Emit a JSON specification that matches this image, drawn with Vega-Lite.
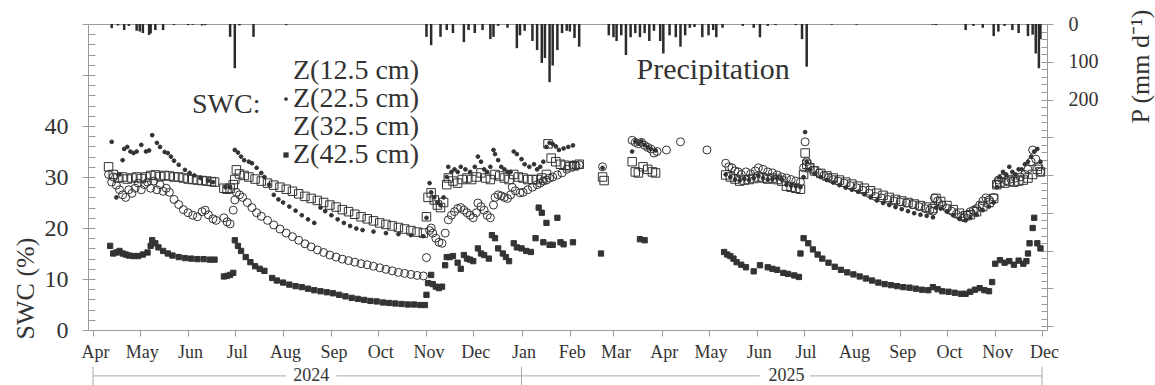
{
"$schema": "https://vega.github.io/schema/vega-lite/v6.json",
"width": 959, "height": 306,
"autosize": {"type": "none"},
"padding": {"left": 88, "top": 24, "right": 108, "bottom": 55},
"background": "white",
"config": {
 "font": "Liberation Serif",
 "view": {"stroke": "#9a9a9a"},
 "axis": {"grid": false, "domainColor": "#9a9a9a", "tickColor": "#9a9a9a", "labelColor": "#333", "titleColor": "#333", "labelFont": "Liberation Serif", "titleFont": "Liberation Serif", "titleFontWeight": "normal"},
 "legend": {"labelFont": "Liberation Serif", "titleFont": "Liberation Serif", "labelColor": "#333", "titleColor": "#333", "orient": "none", "legendX": 104, "legendY": 33, "titleOrient": "left", "titleFontSize": 28, "titleFontWeight": "normal", "titlePadding": 11, "titleAnchor": "middle", "titleBaseline": "alphabetic", "labelFontSize": 28, "rowPadding": 0, "labelOffset": -7, "padding": 0, "symbolStrokeColor": "#333", "symbolStrokeWidth": 1}
},
"datasets": {
"p": [
{"d":"2024-04-13","p":11},{"d":"2024-04-17","p":4},{"d":"2024-04-21","p":16},{"d":"2024-04-24","p":5},{"d":"2024-04-29","p":18},{"d":"2024-05-01","p":20},{"d":"2024-05-03","p":24},{"d":"2024-05-07","p":29},{"d":"2024-05-08","p":25},{"d":"2024-05-11","p":16},{"d":"2024-05-16","p":16},{"d":"2024-05-23","p":3},{"d":"2024-06-01","p":3},{"d":"2024-06-04","p":2},{"d":"2024-06-10","p":4},{"d":"2024-06-12","p":3},{"d":"2024-06-28","p":34},{"d":"2024-07-01","p":117},{"d":"2024-07-04","p":4},{"d":"2024-07-13","p":34},{"d":"2024-08-03","p":3},
{"d":"2024-11-01","p":34},{"d":"2024-11-04","p":56},{"d":"2024-11-10","p":34},{"d":"2024-11-14","p":16},{"d":"2024-11-18","p":24},{"d":"2024-11-25","p":48},{"d":"2024-11-28","p":16},{"d":"2024-12-02","p":24},{"d":"2024-12-07","p":16},{"d":"2024-12-12","p":40},{"d":"2024-12-14","p":34},{"d":"2024-12-17","p":5},{"d":"2024-12-23","p":10},{"d":"2024-12-29","p":64},{"d":"2024-12-31","p":30},
{"d":"2025-01-03","p":18},{"d":"2025-01-08","p":45},{"d":"2025-01-11","p":69},{"d":"2025-01-14","p":103},{"d":"2025-01-16","p":90},{"d":"2025-01-19","p":154},{"d":"2025-01-21","p":110},{"d":"2025-01-24","p":69},{"d":"2025-01-27","p":24},{"d":"2025-01-30","p":18},{"d":"2025-02-01","p":20},{"d":"2025-02-04","p":37},{"d":"2025-02-07","p":60},{"d":"2025-02-26","p":30},{"d":"2025-03-01","p":35},{"d":"2025-03-03","p":45},{"d":"2025-03-06","p":30},{"d":"2025-03-09","p":82},{"d":"2025-03-12","p":35},{"d":"2025-03-15","p":24},{"d":"2025-03-18","p":35},{"d":"2025-03-21","p":24},{"d":"2025-03-24","p":45},{"d":"2025-03-27","p":18},{"d":"2025-03-31","p":45},{"d":"2025-04-02","p":78},{"d":"2025-04-06","p":30},{"d":"2025-04-10","p":35},{"d":"2025-04-13","p":60},{"d":"2025-04-16","p":30},{"d":"2025-04-19","p":10},{"d":"2025-04-22","p":8},{"d":"2025-04-27","p":35},{"d":"2025-05-01","p":30},{"d":"2025-05-04","p":16},{"d":"2025-05-06","p":35},{"d":"2025-05-10","p":10},{"d":"2025-05-23","p":5},{"d":"2025-05-30","p":10},{"d":"2025-06-03","p":35},{"d":"2025-06-08","p":5},{"d":"2025-06-13","p":3},{"d":"2025-06-26","p":3},{"d":"2025-06-30","p":40},{"d":"2025-07-03","p":113},{"d":"2025-07-19","p":2},{"d":"2025-08-04","p":2},{"d":"2025-09-22","p":2},{"d":"2025-09-24","p":3},{"d":"2025-10-13","p":16},{"d":"2025-10-18","p":5},{"d":"2025-10-24","p":10},{"d":"2025-10-31","p":32},{"d":"2025-11-03","p":20},{"d":"2025-11-07","p":5},{"d":"2025-11-12","p":16},{"d":"2025-11-16","p":24},{"d":"2025-11-22","p":32},{"d":"2025-11-25","p":28},{"d":"2025-11-27","p":78},{"d":"2025-11-29","p":117},{"d":"2025-11-30","p":40}
],
"swc": [
{"d":"2024-04-11","s":"12.5","v":30.5},{"d":"2024-04-13","s":"12.5","v":29},{"d":"2024-04-14","s":"12.5","v":30},{"d":"2024-04-16","s":"12.5","v":28.4},{"d":"2024-04-18","s":"12.5","v":27.5},{"d":"2024-04-20","s":"12.5","v":26.5},{"d":"2024-04-22","s":"12.5","v":26},{"d":"2024-04-24","s":"12.5","v":27.5},{"d":"2024-04-26","s":"12.5","v":26.8},{"d":"2024-04-28","s":"12.5","v":27.8},{"d":"2024-04-30","s":"12.5","v":28.8},{"d":"2024-05-02","s":"12.5","v":27.5},{"d":"2024-05-04","s":"12.5","v":28.5},{"d":"2024-05-06","s":"12.5","v":29},{"d":"2024-05-08","s":"12.5","v":27.8},{"d":"2024-05-10","s":"12.5","v":29.2},{"d":"2024-05-12","s":"12.5","v":27.5},{"d":"2024-05-14","s":"12.5","v":28.5},{"d":"2024-05-16","s":"12.5","v":27.2},{"d":"2024-05-18","s":"12.5","v":27.8},{"d":"2024-05-20","s":"12.5","v":27},{"d":"2024-05-23","s":"12.5","v":25.6},{"d":"2024-05-26","s":"12.5","v":24.6},{"d":"2024-05-29","s":"12.5","v":23.6},{"d":"2024-06-01","s":"12.5","v":23},{"d":"2024-06-04","s":"12.5","v":22.5},{"d":"2024-06-07","s":"12.5","v":22.2},{"d":"2024-06-10","s":"12.5","v":23.2},{"d":"2024-06-12","s":"12.5","v":23.5},{"d":"2024-06-14","s":"12.5","v":22.6},{"d":"2024-06-17","s":"12.5","v":21.8},{"d":"2024-06-19","s":"12.5","v":21.5},{"d":"2024-06-24","s":"12.5","v":22},{"d":"2024-06-26","s":"12.5","v":21.2},{"d":"2024-06-28","s":"12.5","v":20.8},{"d":"2024-06-30","s":"12.5","v":23.5},{"d":"2024-07-01","s":"12.5","v":25.5},{"d":"2024-07-02","s":"12.5","v":27},{"d":"2024-07-04","s":"12.5","v":26.5},{"d":"2024-07-06","s":"12.5","v":26},{"d":"2024-07-09","s":"12.5","v":25},{"d":"2024-07-12","s":"12.5","v":24},{"d":"2024-07-15","s":"12.5","v":23},{"d":"2024-07-18","s":"12.5","v":22.3},{"d":"2024-07-22","s":"12.5","v":21.5},{"d":"2024-07-26","s":"12.5","v":20.6},{"d":"2024-07-30","s":"12.5","v":19.8},{"d":"2024-08-03","s":"12.5","v":19},{"d":"2024-08-07","s":"12.5","v":18.3},{"d":"2024-08-11","s":"12.5","v":17.6},{"d":"2024-08-15","s":"12.5","v":16.9},{"d":"2024-08-19","s":"12.5","v":16.3},{"d":"2024-08-23","s":"12.5","v":15.7},{"d":"2024-08-27","s":"12.5","v":15.2},{"d":"2024-08-31","s":"12.5","v":14.7},{"d":"2024-09-04","s":"12.5","v":14.3},{"d":"2024-09-08","s":"12.5","v":13.9},{"d":"2024-09-12","s":"12.5","v":13.6},{"d":"2024-09-16","s":"12.5","v":13.3},{"d":"2024-09-20","s":"12.5","v":13},{"d":"2024-09-24","s":"12.5","v":12.8},{"d":"2024-09-28","s":"12.5","v":12.5},{"d":"2024-10-02","s":"12.5","v":12.2},{"d":"2024-10-06","s":"12.5","v":11.9},{"d":"2024-10-10","s":"12.5","v":11.6},{"d":"2024-10-14","s":"12.5","v":11.3},{"d":"2024-10-18","s":"12.5","v":11.1},{"d":"2024-10-22","s":"12.5","v":10.9},{"d":"2024-10-26","s":"12.5","v":10.7},{"d":"2024-10-30","s":"12.5","v":10.6},{"d":"2024-11-01","s":"12.5","v":14.2},{"d":"2024-11-03","s":"12.5","v":19.5},{"d":"2024-11-04","s":"12.5","v":20},{"d":"2024-11-05","s":"12.5","v":19},{"d":"2024-11-07","s":"12.5","v":18},{"d":"2024-11-09","s":"12.5","v":17.2},{"d":"2024-11-11","s":"12.5","v":17},{"d":"2024-11-13","s":"12.5","v":19},{"d":"2024-11-15","s":"12.5","v":21.6},{"d":"2024-11-17","s":"12.5","v":22.5},{"d":"2024-11-19","s":"12.5","v":23.2},{"d":"2024-11-21","s":"12.5","v":23.8},{"d":"2024-11-23","s":"12.5","v":24},{"d":"2024-11-25","s":"12.5","v":23.5},{"d":"2024-11-27","s":"12.5","v":23},{"d":"2024-11-29","s":"12.5","v":22.5},{"d":"2024-12-01","s":"12.5","v":22},{"d":"2024-12-03","s":"12.5","v":23},{"d":"2024-12-04","s":"12.5","v":24.9},{"d":"2024-12-06","s":"12.5","v":24.2},{"d":"2024-12-08","s":"12.5","v":23.5},{"d":"2024-12-10","s":"12.5","v":22.5},{"d":"2024-12-12","s":"12.5","v":22},{"d":"2024-12-14","s":"12.5","v":24.5},{"d":"2024-12-15","s":"12.5","v":26},{"d":"2024-12-17","s":"12.5","v":26.5},{"d":"2024-12-19","s":"12.5","v":26.3},{"d":"2024-12-21","s":"12.5","v":26},{"d":"2024-12-23","s":"12.5","v":25.8},{"d":"2024-12-25","s":"12.5","v":26.5},{"d":"2024-12-26","s":"12.5","v":28},{"d":"2024-12-28","s":"12.5","v":27.3},{"d":"2024-12-31","s":"12.5","v":26.9},{"d":"2025-01-02","s":"12.5","v":27},{"d":"2025-01-05","s":"12.5","v":27.5},{"d":"2025-01-08","s":"12.5","v":28},{"d":"2025-01-11","s":"12.5","v":28.5},{"d":"2025-01-13","s":"12.5","v":28.8},{"d":"2025-01-15","s":"12.5","v":29.2},{"d":"2025-01-17","s":"12.5","v":29.4},{"d":"2025-01-19","s":"12.5","v":29.8},{"d":"2025-01-21","s":"12.5","v":30},{"d":"2025-01-24","s":"12.5","v":30.4},{"d":"2025-01-27","s":"12.5","v":30.8},{"d":"2025-01-30","s":"12.5","v":31.5},{"d":"2025-02-03","s":"12.5","v":32.4},{"d":"2025-02-05","s":"12.5","v":32.2},{"d":"2025-02-07","s":"12.5","v":32.4},{"d":"2025-02-22","s":"12.5","v":32},{"d":"2025-03-13","s":"12.5","v":37.2},{"d":"2025-03-15","s":"12.5","v":36.8},{"d":"2025-03-17","s":"12.5","v":36.5},{"d":"2025-03-19","s":"12.5","v":36.8},{"d":"2025-03-21","s":"12.5","v":36.2},{"d":"2025-03-23","s":"12.5","v":35.8},{"d":"2025-03-25","s":"12.5","v":35.5},{"d":"2025-03-27","s":"12.5","v":34.7},{"d":"2025-03-29","s":"12.5","v":35},{"d":"2025-04-04","s":"12.5","v":35.3},{"d":"2025-04-13","s":"12.5","v":36.9},{"d":"2025-04-30","s":"12.5","v":35.3},{"d":"2025-05-12","s":"12.5","v":32.7},{"d":"2025-05-14","s":"12.5","v":32},{"d":"2025-05-16","s":"12.5","v":31.8},{"d":"2025-05-18","s":"12.5","v":31.2},{"d":"2025-05-20","s":"12.5","v":31},{"d":"2025-05-22","s":"12.5","v":30.5},{"d":"2025-05-25","s":"12.5","v":31},{"d":"2025-05-28","s":"12.5","v":30.6},{"d":"2025-05-31","s":"12.5","v":31.2},{"d":"2025-06-02","s":"12.5","v":31.8},{"d":"2025-06-05","s":"12.5","v":31.5},{"d":"2025-06-08","s":"12.5","v":31},{"d":"2025-06-11","s":"12.5","v":30.8},{"d":"2025-06-14","s":"12.5","v":30.4},{"d":"2025-06-17","s":"12.5","v":30},{"d":"2025-06-20","s":"12.5","v":29.8},{"d":"2025-06-23","s":"12.5","v":29.5},{"d":"2025-06-26","s":"12.5","v":29.2},{"d":"2025-06-29","s":"12.5","v":29},{"d":"2025-07-01","s":"12.5","v":31.8},{"d":"2025-07-02","s":"12.5","v":36.9},{"d":"2025-07-03","s":"12.5","v":33},{"d":"2025-07-05","s":"12.5","v":32},{"d":"2025-07-08","s":"12.5","v":31.3},{"d":"2025-07-11","s":"12.5","v":30.8},{"d":"2025-07-14","s":"12.5","v":30.3},{"d":"2025-07-17","s":"12.5","v":29.9},{"d":"2025-07-20","s":"12.5","v":29.5},{"d":"2025-07-23","s":"12.5","v":29.2},{"d":"2025-07-27","s":"12.5","v":28.8},{"d":"2025-07-31","s":"12.5","v":28.3},{"d":"2025-08-04","s":"12.5","v":27.9},{"d":"2025-08-08","s":"12.5","v":27.4},{"d":"2025-08-12","s":"12.5","v":26.8},{"d":"2025-08-16","s":"12.5","v":26.2},{"d":"2025-08-20","s":"12.5","v":25.9},{"d":"2025-08-24","s":"12.5","v":25.6},{"d":"2025-08-28","s":"12.5","v":25.3},{"d":"2025-09-01","s":"12.5","v":25.1},{"d":"2025-09-05","s":"12.5","v":24.9},{"d":"2025-09-09","s":"12.5","v":24.6},{"d":"2025-09-13","s":"12.5","v":24.2},{"d":"2025-09-17","s":"12.5","v":23.8},{"d":"2025-09-20","s":"12.5","v":23.5},{"d":"2025-09-22","s":"12.5","v":23.3},{"d":"2025-09-23","s":"12.5","v":25.9},{"d":"2025-09-25","s":"12.5","v":25.3},{"d":"2025-09-28","s":"12.5","v":24.5},{"d":"2025-10-01","s":"12.5","v":23.9},{"d":"2025-10-04","s":"12.5","v":23.3},{"d":"2025-10-07","s":"12.5","v":22.7},{"d":"2025-10-10","s":"12.5","v":22.2},{"d":"2025-10-12","s":"12.5","v":22},{"d":"2025-10-14","s":"12.5","v":22.6},{"d":"2025-10-16","s":"12.5","v":23.2},{"d":"2025-10-18","s":"12.5","v":23.5},{"d":"2025-10-20","s":"12.5","v":23.8},{"d":"2025-10-22","s":"12.5","v":24.5},{"d":"2025-10-24","s":"12.5","v":25.3},{"d":"2025-10-26","s":"12.5","v":25.9},{"d":"2025-10-28","s":"12.5","v":25.5},{"d":"2025-10-31","s":"12.5","v":26},{"d":"2025-11-02","s":"12.5","v":28.5},{"d":"2025-11-03","s":"12.5","v":29.4},{"d":"2025-11-05","s":"12.5","v":29.8},{"d":"2025-11-08","s":"12.5","v":29.3},{"d":"2025-11-11","s":"12.5","v":29.6},{"d":"2025-11-14","s":"12.5","v":29.8},{"d":"2025-11-17","s":"12.5","v":30},{"d":"2025-11-20","s":"12.5","v":30.5},{"d":"2025-11-22","s":"12.5","v":31.5},{"d":"2025-11-24","s":"12.5","v":33},{"d":"2025-11-25","s":"12.5","v":35.3},{"d":"2025-11-27","s":"12.5","v":33.5},{"d":"2025-11-29","s":"12.5","v":32},{"d":"2025-11-30","s":"12.5","v":31},
{"d":"2024-04-13","s":"22.5","v":36.9},{"d":"2024-04-16","s":"22.5","v":26},{"d":"2024-04-18","s":"22.5","v":30.5},{"d":"2024-04-20","s":"22.5","v":33.3},{"d":"2024-04-21","s":"22.5","v":35.5},{"d":"2024-04-23","s":"22.5","v":35.9},{"d":"2024-04-25","s":"22.5","v":35},{"d":"2024-04-27","s":"22.5","v":34.7},{"d":"2024-04-29","s":"22.5","v":35},{"d":"2024-05-02","s":"22.5","v":36.3},{"d":"2024-05-05","s":"22.5","v":35},{"d":"2024-05-07","s":"22.5","v":35.2},{"d":"2024-05-09","s":"22.5","v":38.2},{"d":"2024-05-12","s":"22.5","v":36.7},{"d":"2024-05-14","s":"22.5","v":35.9},{"d":"2024-05-17","s":"22.5","v":34.9},{"d":"2024-05-19","s":"22.5","v":34.7},{"d":"2024-05-21","s":"22.5","v":34},{"d":"2024-05-23","s":"22.5","v":33.2},{"d":"2024-05-26","s":"22.5","v":32.4},{"d":"2024-05-30","s":"22.5","v":31.4},{"d":"2024-06-02","s":"22.5","v":30.8},{"d":"2024-06-05","s":"22.5","v":30.3},{"d":"2024-06-09","s":"22.5","v":29.8},{"d":"2024-06-14","s":"22.5","v":29.3},{"d":"2024-06-17","s":"22.5","v":29},{"d":"2024-06-25","s":"22.5","v":28},{"d":"2024-06-28","s":"22.5","v":28},{"d":"2024-07-01","s":"22.5","v":35.3},{"d":"2024-07-03","s":"22.5","v":34.8},{"d":"2024-07-05","s":"22.5","v":34},{"d":"2024-07-07","s":"22.5","v":33.3},{"d":"2024-07-10","s":"22.5","v":33},{"d":"2024-07-12","s":"22.5","v":32.7},{"d":"2024-07-15","s":"22.5","v":31.8},{"d":"2024-07-18","s":"22.5","v":30.8},{"d":"2024-07-20","s":"22.5","v":30},{"d":"2024-07-23","s":"22.5","v":28.5},{"d":"2024-07-26","s":"22.5","v":26.5},{"d":"2024-07-29","s":"22.5","v":25.6},{"d":"2024-08-01","s":"22.5","v":25},{"d":"2024-08-05","s":"22.5","v":24.2},{"d":"2024-08-09","s":"22.5","v":23.4},{"d":"2024-08-13","s":"22.5","v":22.5},{"d":"2024-08-17","s":"22.5","v":21.7},{"d":"2024-08-21","s":"22.5","v":21},{"d":"2024-08-25","s":"22.5","v":24},{"d":"2024-08-28","s":"22.5","v":23.3},{"d":"2024-09-01","s":"22.5","v":22.5},{"d":"2024-09-05","s":"22.5","v":21.7},{"d":"2024-09-09","s":"22.5","v":21},{"d":"2024-09-13","s":"22.5","v":20.4},{"d":"2024-09-17","s":"22.5","v":19.9},{"d":"2024-09-21","s":"22.5","v":19.6},{"d":"2024-09-28","s":"22.5","v":19.3},{"d":"2024-10-06","s":"22.5","v":19},{"d":"2024-10-14","s":"22.5","v":18.8},{"d":"2024-10-22","s":"22.5","v":18.6},{"d":"2024-10-30","s":"22.5","v":18.4},{"d":"2024-11-01","s":"22.5","v":22},{"d":"2024-11-03","s":"22.5","v":28.8},{"d":"2024-11-04","s":"22.5","v":27},{"d":"2024-11-06","s":"22.5","v":26},{"d":"2024-11-08","s":"22.5","v":25},{"d":"2024-11-10","s":"22.5","v":24.5},{"d":"2024-11-12","s":"22.5","v":26},{"d":"2024-11-14","s":"22.5","v":30},{"d":"2024-11-15","s":"22.5","v":32},{"d":"2024-11-17","s":"22.5","v":31},{"d":"2024-11-19","s":"22.5","v":31.5},{"d":"2024-11-21","s":"22.5","v":31},{"d":"2024-11-23","s":"22.5","v":32},{"d":"2024-11-26","s":"22.5","v":31.5},{"d":"2024-11-29","s":"22.5","v":31},{"d":"2024-12-02","s":"22.5","v":32},{"d":"2024-12-04","s":"22.5","v":34},{"d":"2024-12-06","s":"22.5","v":33},{"d":"2024-12-08","s":"22.5","v":31.5},{"d":"2024-12-10","s":"22.5","v":31},{"d":"2024-12-12","s":"22.5","v":32},{"d":"2024-12-14","s":"22.5","v":35.3},{"d":"2024-12-15","s":"22.5","v":34.5},{"d":"2024-12-17","s":"22.5","v":33.3},{"d":"2024-12-19","s":"22.5","v":32},{"d":"2024-12-21","s":"22.5","v":31.5},{"d":"2024-12-23","s":"22.5","v":31},{"d":"2024-12-25","s":"22.5","v":31},{"d":"2024-12-27","s":"22.5","v":35},{"d":"2024-12-29","s":"22.5","v":34.5},{"d":"2025-01-01","s":"22.5","v":33.5},{"d":"2025-01-03","s":"22.5","v":32.5},{"d":"2025-01-06","s":"22.5","v":32},{"d":"2025-01-09","s":"22.5","v":32.5},{"d":"2025-01-11","s":"22.5","v":31.5},{"d":"2025-01-13","s":"22.5","v":32},{"d":"2025-01-15","s":"22.5","v":33},{"d":"2025-01-17","s":"22.5","v":35.9},{"d":"2025-01-19","s":"22.5","v":36.7},{"d":"2025-01-21","s":"22.5","v":36.5},{"d":"2025-01-23","s":"22.5","v":36},{"d":"2025-01-25","s":"22.5","v":35.3},{"d":"2025-01-28","s":"22.5","v":35.6},{"d":"2025-01-31","s":"22.5","v":35.9},{"d":"2025-02-03","s":"22.5","v":36.2},{"d":"2025-02-22","s":"22.5","v":31.8},{"d":"2025-03-13","s":"22.5","v":35},{"d":"2025-03-15","s":"22.5","v":37},{"d":"2025-03-17","s":"22.5","v":36.5},{"d":"2025-03-19","s":"22.5","v":37},{"d":"2025-03-21","s":"22.5","v":36.3},{"d":"2025-03-23","s":"22.5","v":35.8},{"d":"2025-03-25","s":"22.5","v":35.5},{"d":"2025-03-28","s":"22.5","v":35.2},{"d":"2025-05-12","s":"22.5","v":30.5},{"d":"2025-05-15","s":"22.5","v":30},{"d":"2025-05-18","s":"22.5","v":29.5},{"d":"2025-05-21","s":"22.5","v":29.3},{"d":"2025-05-24","s":"22.5","v":29.6},{"d":"2025-05-27","s":"22.5","v":29.4},{"d":"2025-05-30","s":"22.5","v":29.8},{"d":"2025-06-02","s":"22.5","v":30.2},{"d":"2025-06-05","s":"22.5","v":29.8},{"d":"2025-06-08","s":"22.5","v":29.5},{"d":"2025-06-11","s":"22.5","v":29.6},{"d":"2025-06-14","s":"22.5","v":29.8},{"d":"2025-06-17","s":"22.5","v":29.5},{"d":"2025-06-20","s":"22.5","v":28.5},{"d":"2025-06-23","s":"22.5","v":28.3},{"d":"2025-06-26","s":"22.5","v":28.2},{"d":"2025-06-29","s":"22.5","v":28},{"d":"2025-07-01","s":"22.5","v":30},{"d":"2025-07-02","s":"22.5","v":38.8},{"d":"2025-07-03","s":"22.5","v":33},{"d":"2025-07-05","s":"22.5","v":31.5},{"d":"2025-07-08","s":"22.5","v":30.6},{"d":"2025-07-12","s":"22.5","v":30},{"d":"2025-07-16","s":"22.5","v":29.4},{"d":"2025-07-20","s":"22.5","v":28.9},{"d":"2025-07-24","s":"22.5","v":28.4},{"d":"2025-07-28","s":"22.5","v":27.9},{"d":"2025-08-01","s":"22.5","v":27.5},{"d":"2025-08-05","s":"22.5","v":27.1},{"d":"2025-08-09","s":"22.5","v":26.6},{"d":"2025-08-13","s":"22.5","v":26},{"d":"2025-08-17","s":"22.5","v":25.4},{"d":"2025-08-21","s":"22.5","v":24.9},{"d":"2025-08-25","s":"22.5","v":24.5},{"d":"2025-08-29","s":"22.5","v":24.1},{"d":"2025-09-02","s":"22.5","v":23.7},{"d":"2025-09-06","s":"22.5","v":23.3},{"d":"2025-09-10","s":"22.5","v":22.9},{"d":"2025-09-14","s":"22.5","v":22.6},{"d":"2025-09-18","s":"22.5","v":22.4},{"d":"2025-09-22","s":"22.5","v":22.1},{"d":"2025-09-24","s":"22.5","v":24},{"d":"2025-09-27","s":"22.5","v":23.8},{"d":"2025-10-01","s":"22.5","v":23.2},{"d":"2025-10-05","s":"22.5","v":22.5},{"d":"2025-10-09","s":"22.5","v":21.8},{"d":"2025-10-13","s":"22.5","v":21.5},{"d":"2025-10-16","s":"22.5","v":22},{"d":"2025-10-20","s":"22.5","v":22.6},{"d":"2025-10-24","s":"22.5","v":23.5},{"d":"2025-10-28","s":"22.5","v":24.2},{"d":"2025-10-31","s":"22.5","v":25},{"d":"2025-11-02","s":"22.5","v":28},{"d":"2025-11-04","s":"22.5","v":30},{"d":"2025-11-06","s":"22.5","v":31},{"d":"2025-11-08","s":"22.5","v":30.5},{"d":"2025-11-10","s":"22.5","v":32},{"d":"2025-11-12","s":"22.5","v":31},{"d":"2025-11-14","s":"22.5","v":30.5},{"d":"2025-11-16","s":"22.5","v":31.5},{"d":"2025-11-18","s":"22.5","v":31.5},{"d":"2025-11-20","s":"22.5","v":32.5},{"d":"2025-11-22","s":"22.5","v":33},{"d":"2025-11-24","s":"22.5","v":34},{"d":"2025-11-26","s":"22.5","v":35},{"d":"2025-11-28","s":"22.5","v":35.5},{"d":"2025-11-30","s":"22.5","v":33},
{"d":"2024-04-11","s":"32.5","v":32},{"d":"2024-04-14","s":"32.5","v":30.5},{"d":"2024-04-17","s":"32.5","v":29.8},{"d":"2024-04-20","s":"32.5","v":30},{"d":"2024-04-23","s":"32.5","v":29.6},{"d":"2024-04-26","s":"32.5","v":29.8},{"d":"2024-04-29","s":"32.5","v":30},{"d":"2024-05-02","s":"32.5","v":29.7},{"d":"2024-05-05","s":"32.5","v":30},{"d":"2024-05-08","s":"32.5","v":30.3},{"d":"2024-05-11","s":"32.5","v":30.4},{"d":"2024-05-14","s":"32.5","v":30.1},{"d":"2024-05-17","s":"32.5","v":30.3},{"d":"2024-05-20","s":"32.5","v":30.2},{"d":"2024-05-23","s":"32.5","v":30},{"d":"2024-05-26","s":"32.5","v":30},{"d":"2024-05-29","s":"32.5","v":29.8},{"d":"2024-06-01","s":"32.5","v":29.6},{"d":"2024-06-04","s":"32.5","v":29.5},{"d":"2024-06-07","s":"32.5","v":29.4},{"d":"2024-06-10","s":"32.5","v":29.3},{"d":"2024-06-13","s":"32.5","v":29.2},{"d":"2024-06-16","s":"32.5","v":29.1},{"d":"2024-06-18","s":"32.5","v":29},{"d":"2024-06-24","s":"32.5","v":27.8},{"d":"2024-06-26","s":"32.5","v":27.6},{"d":"2024-06-28","s":"32.5","v":27.8},{"d":"2024-06-30","s":"32.5","v":28.5},{"d":"2024-07-01","s":"32.5","v":29.5},{"d":"2024-07-02","s":"32.5","v":31.4},{"d":"2024-07-04","s":"32.5","v":30.6},{"d":"2024-07-07","s":"32.5","v":30.3},{"d":"2024-07-10","s":"32.5","v":30},{"d":"2024-07-14","s":"32.5","v":29.6},{"d":"2024-07-18","s":"32.5","v":29.2},{"d":"2024-07-22","s":"32.5","v":28.8},{"d":"2024-07-26","s":"32.5","v":28.4},{"d":"2024-07-30","s":"32.5","v":28},{"d":"2024-08-03","s":"32.5","v":27.6},{"d":"2024-08-07","s":"32.5","v":27.2},{"d":"2024-08-11","s":"32.5","v":26.7},{"d":"2024-08-15","s":"32.5","v":26.2},{"d":"2024-08-19","s":"32.5","v":25.8},{"d":"2024-08-23","s":"32.5","v":25.4},{"d":"2024-08-27","s":"32.5","v":25},{"d":"2024-08-31","s":"32.5","v":24.5},{"d":"2024-09-04","s":"32.5","v":24.1},{"d":"2024-09-08","s":"32.5","v":23.6},{"d":"2024-09-12","s":"32.5","v":23.2},{"d":"2024-09-16","s":"32.5","v":22.7},{"d":"2024-09-20","s":"32.5","v":22.2},{"d":"2024-09-24","s":"32.5","v":21.8},{"d":"2024-09-28","s":"32.5","v":21.4},{"d":"2024-10-02","s":"32.5","v":21},{"d":"2024-10-06","s":"32.5","v":20.7},{"d":"2024-10-10","s":"32.5","v":20.4},{"d":"2024-10-14","s":"32.5","v":20.1},{"d":"2024-10-18","s":"32.5","v":19.8},{"d":"2024-10-22","s":"32.5","v":19.5},{"d":"2024-10-26","s":"32.5","v":19.2},{"d":"2024-10-30","s":"32.5","v":19},{"d":"2024-11-01","s":"32.5","v":22.2},{"d":"2024-11-02","s":"32.5","v":26},{"d":"2024-11-04","s":"32.5","v":26.9},{"d":"2024-11-06","s":"32.5","v":25.5},{"d":"2024-11-08","s":"32.5","v":24.5},{"d":"2024-11-10","s":"32.5","v":24},{"d":"2024-11-12","s":"32.5","v":25},{"d":"2024-11-14","s":"32.5","v":28.5},{"d":"2024-11-15","s":"32.5","v":29.8},{"d":"2024-11-18","s":"32.5","v":29.2},{"d":"2024-11-21","s":"32.5","v":28.8},{"d":"2024-11-24","s":"32.5","v":29.5},{"d":"2024-11-27","s":"32.5","v":29.8},{"d":"2024-11-30","s":"32.5","v":29.5},{"d":"2024-12-03","s":"32.5","v":30},{"d":"2024-12-06","s":"32.5","v":30.8},{"d":"2024-12-09","s":"32.5","v":29.8},{"d":"2024-12-12","s":"32.5","v":29.5},{"d":"2024-12-15","s":"32.5","v":30.5},{"d":"2024-12-18","s":"32.5","v":30.2},{"d":"2024-12-21","s":"32.5","v":29.8},{"d":"2024-12-24","s":"32.5","v":29.5},{"d":"2024-12-27","s":"32.5","v":30.5},{"d":"2024-12-30","s":"32.5","v":30},{"d":"2025-01-02","s":"32.5","v":29.8},{"d":"2025-01-05","s":"32.5","v":29.5},{"d":"2025-01-08","s":"32.5","v":29.5},{"d":"2025-01-11","s":"32.5","v":29.5},{"d":"2025-01-14","s":"32.5","v":29.8},{"d":"2025-01-17","s":"32.5","v":30.5},{"d":"2025-01-18","s":"32.5","v":36.5},{"d":"2025-01-20","s":"32.5","v":33.7},{"d":"2025-01-23","s":"32.5","v":33},{"d":"2025-01-26","s":"32.5","v":32.5},{"d":"2025-01-29","s":"32.5","v":32.3},{"d":"2025-02-01","s":"32.5","v":32},{"d":"2025-02-04","s":"32.5","v":32.2},{"d":"2025-02-07","s":"32.5","v":32.5},{"d":"2025-02-22","s":"32.5","v":30},{"d":"2025-02-23","s":"32.5","v":29.3},{"d":"2025-03-13","s":"32.5","v":33},{"d":"2025-03-15","s":"32.5","v":31},{"d":"2025-03-17","s":"32.5","v":30.8},{"d":"2025-03-20","s":"32.5","v":32},{"d":"2025-03-23","s":"32.5","v":31.5},{"d":"2025-03-26","s":"32.5","v":31},{"d":"2025-03-28","s":"32.5","v":30.8},{"d":"2025-05-12","s":"32.5","v":30.4},{"d":"2025-05-15","s":"32.5","v":30},{"d":"2025-05-18","s":"32.5","v":29.6},{"d":"2025-05-21","s":"32.5","v":29.2},{"d":"2025-05-24","s":"32.5","v":29.4},{"d":"2025-05-27","s":"32.5","v":29.5},{"d":"2025-05-30","s":"32.5","v":29.7},{"d":"2025-06-02","s":"32.5","v":30},{"d":"2025-06-05","s":"32.5","v":29.8},{"d":"2025-06-08","s":"32.5","v":29.6},{"d":"2025-06-11","s":"32.5","v":29.8},{"d":"2025-06-14","s":"32.5","v":29.5},{"d":"2025-06-17","s":"32.5","v":29.2},{"d":"2025-06-20","s":"32.5","v":28.2},{"d":"2025-06-23","s":"32.5","v":28},{"d":"2025-06-26","s":"32.5","v":27.8},{"d":"2025-06-29","s":"32.5","v":27.6},{"d":"2025-07-01","s":"32.5","v":30.5},{"d":"2025-07-02","s":"32.5","v":34.7},{"d":"2025-07-03","s":"32.5","v":32.5},{"d":"2025-07-05","s":"32.5","v":31.8},{"d":"2025-07-08","s":"32.5","v":31.2},{"d":"2025-07-12","s":"32.5","v":30.7},{"d":"2025-07-16","s":"32.5","v":30.2},{"d":"2025-07-20","s":"32.5","v":29.8},{"d":"2025-07-24","s":"32.5","v":29.4},{"d":"2025-07-28","s":"32.5","v":29},{"d":"2025-08-01","s":"32.5","v":28.6},{"d":"2025-08-05","s":"32.5","v":28.2},{"d":"2025-08-09","s":"32.5","v":27.8},{"d":"2025-08-13","s":"32.5","v":27.3},{"d":"2025-08-17","s":"32.5","v":26.8},{"d":"2025-08-21","s":"32.5","v":26.4},{"d":"2025-08-25","s":"32.5","v":26},{"d":"2025-08-29","s":"32.5","v":25.6},{"d":"2025-09-02","s":"32.5","v":25.3},{"d":"2025-09-06","s":"32.5","v":25},{"d":"2025-09-10","s":"32.5","v":24.7},{"d":"2025-09-14","s":"32.5","v":24.4},{"d":"2025-09-18","s":"32.5","v":24.1},{"d":"2025-09-22","s":"32.5","v":23.8},{"d":"2025-09-24","s":"32.5","v":25.8},{"d":"2025-09-27","s":"32.5","v":25.2},{"d":"2025-10-01","s":"32.5","v":24.4},{"d":"2025-10-05","s":"32.5","v":23.6},{"d":"2025-10-09","s":"32.5","v":22.9},{"d":"2025-10-13","s":"32.5","v":22.4},{"d":"2025-10-16","s":"32.5","v":22.6},{"d":"2025-10-20","s":"32.5","v":23.2},{"d":"2025-10-24","s":"32.5","v":24.2},{"d":"2025-10-28","s":"32.5","v":25},{"d":"2025-10-31","s":"32.5","v":25.8},{"d":"2025-11-02","s":"32.5","v":28.5},{"d":"2025-11-04","s":"32.5","v":29},{"d":"2025-11-07","s":"32.5","v":28.8},{"d":"2025-11-10","s":"32.5","v":29.2},{"d":"2025-11-13","s":"32.5","v":29},{"d":"2025-11-16","s":"32.5","v":29.2},{"d":"2025-11-19","s":"32.5","v":29.4},{"d":"2025-11-22","s":"32.5","v":29.8},{"d":"2025-11-25","s":"32.5","v":30.5},{"d":"2025-11-28","s":"32.5","v":31.5},{"d":"2025-11-30","s":"32.5","v":31},
{"d":"2024-04-12","s":"42.5","v":16.5},{"d":"2024-04-14","s":"42.5","v":15},{"d":"2024-04-16","s":"42.5","v":15.2},{"d":"2024-04-18","s":"42.5","v":15.5},{"d":"2024-04-20","s":"42.5","v":15},{"d":"2024-04-22","s":"42.5","v":14.8},{"d":"2024-04-24","s":"42.5","v":14.6},{"d":"2024-04-27","s":"42.5","v":14.5},{"d":"2024-04-30","s":"42.5","v":14.5},{"d":"2024-05-03","s":"42.5","v":14.8},{"d":"2024-05-06","s":"42.5","v":15.2},{"d":"2024-05-08","s":"42.5","v":16.5},{"d":"2024-05-09","s":"42.5","v":17.6},{"d":"2024-05-11","s":"42.5","v":17},{"d":"2024-05-13","s":"42.5","v":16.2},{"d":"2024-05-16","s":"42.5","v":15.5},{"d":"2024-05-19","s":"42.5","v":15},{"d":"2024-05-22","s":"42.5","v":14.6},{"d":"2024-05-26","s":"42.5","v":14.3},{"d":"2024-05-30","s":"42.5","v":14.1},{"d":"2024-06-03","s":"42.5","v":14},{"d":"2024-06-07","s":"42.5","v":13.9},{"d":"2024-06-11","s":"42.5","v":13.9},{"d":"2024-06-15","s":"42.5","v":13.8},{"d":"2024-06-18","s":"42.5","v":13.8},{"d":"2024-06-24","s":"42.5","v":10.5},{"d":"2024-06-26","s":"42.5","v":10.6},{"d":"2024-06-28","s":"42.5","v":10.8},{"d":"2024-06-30","s":"42.5","v":11.2},{"d":"2024-07-01","s":"42.5","v":17.6},{"d":"2024-07-03","s":"42.5","v":16.5},{"d":"2024-07-05","s":"42.5","v":15.5},{"d":"2024-07-08","s":"42.5","v":14.3},{"d":"2024-07-11","s":"42.5","v":13.3},{"d":"2024-07-14","s":"42.5","v":12.5},{"d":"2024-07-17","s":"42.5","v":12},{"d":"2024-07-20","s":"42.5","v":11.6},{"d":"2024-07-25","s":"42.5","v":10.2},{"d":"2024-07-28","s":"42.5","v":9.7},{"d":"2024-08-01","s":"42.5","v":9.3},{"d":"2024-08-05","s":"42.5","v":8.9},{"d":"2024-08-09","s":"42.5","v":8.6},{"d":"2024-08-13","s":"42.5","v":8.4},{"d":"2024-08-17","s":"42.5","v":8.1},{"d":"2024-08-21","s":"42.5","v":7.8},{"d":"2024-08-25","s":"42.5","v":7.6},{"d":"2024-08-29","s":"42.5","v":7.4},{"d":"2024-09-02","s":"42.5","v":7.2},{"d":"2024-09-06","s":"42.5","v":6.9},{"d":"2024-09-10","s":"42.5","v":6.6},{"d":"2024-09-14","s":"42.5","v":6.3},{"d":"2024-09-18","s":"42.5","v":6.1},{"d":"2024-09-22","s":"42.5","v":5.9},{"d":"2024-09-26","s":"42.5","v":5.7},{"d":"2024-09-30","s":"42.5","v":5.6},{"d":"2024-10-04","s":"42.5","v":5.4},{"d":"2024-10-08","s":"42.5","v":5.3},{"d":"2024-10-12","s":"42.5","v":5.2},{"d":"2024-10-16","s":"42.5","v":5.1},{"d":"2024-10-20","s":"42.5","v":5},{"d":"2024-10-24","s":"42.5","v":5},{"d":"2024-10-28","s":"42.5","v":4.9},{"d":"2024-10-31","s":"42.5","v":4.9},{"d":"2024-11-01","s":"42.5","v":6.9},{"d":"2024-11-02","s":"42.5","v":9.2},{"d":"2024-11-04","s":"42.5","v":10.8},{"d":"2024-11-05","s":"42.5","v":9},{"d":"2024-11-07","s":"42.5","v":8.5},{"d":"2024-11-09","s":"42.5","v":8.2},{"d":"2024-11-11","s":"42.5","v":8.5},{"d":"2024-11-13","s":"42.5","v":12.7},{"d":"2024-11-14","s":"42.5","v":14.3},{"d":"2024-11-16","s":"42.5","v":14.3},{"d":"2024-11-18","s":"42.5","v":14.5},{"d":"2024-11-21","s":"42.5","v":13.2},{"d":"2024-11-23","s":"42.5","v":12},{"d":"2024-11-25","s":"42.5","v":14.7},{"d":"2024-11-27","s":"42.5","v":14},{"d":"2024-11-29","s":"42.5","v":13.8},{"d":"2024-12-01","s":"42.5","v":13.5},{"d":"2024-12-04","s":"42.5","v":16},{"d":"2024-12-06","s":"42.5","v":15},{"d":"2024-12-08","s":"42.5","v":14.7},{"d":"2024-12-11","s":"42.5","v":14},{"d":"2024-12-13","s":"42.5","v":18.6},{"d":"2024-12-15","s":"42.5","v":18},{"d":"2024-12-17","s":"42.5","v":16},{"d":"2024-12-20","s":"42.5","v":15},{"d":"2024-12-22","s":"42.5","v":14.3},{"d":"2024-12-24","s":"42.5","v":13.5},{"d":"2024-12-27","s":"42.5","v":17},{"d":"2024-12-29","s":"42.5","v":16.2},{"d":"2025-01-01","s":"42.5","v":16},{"d":"2025-01-04","s":"42.5","v":15.5},{"d":"2025-01-07","s":"42.5","v":15.3},{"d":"2025-01-10","s":"42.5","v":18},{"d":"2025-01-12","s":"42.5","v":24},{"d":"2025-01-14","s":"42.5","v":23},{"d":"2025-01-15","s":"42.5","v":17.2},{"d":"2025-01-17","s":"42.5","v":21},{"d":"2025-01-19","s":"42.5","v":16.7},{"d":"2025-01-21","s":"42.5","v":16.7},{"d":"2025-01-24","s":"42.5","v":22},{"d":"2025-01-26","s":"42.5","v":17.2},{"d":"2025-01-28","s":"42.5","v":16.8},{"d":"2025-02-03","s":"42.5","v":17.2},{"d":"2025-02-21","s":"42.5","v":15},{"d":"2025-03-18","s":"42.5","v":17.8},{"d":"2025-03-21","s":"42.5","v":17.6},{"d":"2025-05-11","s":"42.5","v":15.3},{"d":"2025-05-13","s":"42.5","v":14.8},{"d":"2025-05-15","s":"42.5","v":14.5},{"d":"2025-05-17","s":"42.5","v":14},{"d":"2025-05-19","s":"42.5","v":13.3},{"d":"2025-05-22","s":"42.5","v":12.8},{"d":"2025-05-25","s":"42.5","v":12.3},{"d":"2025-05-30","s":"42.5","v":11.5},{"d":"2025-06-03","s":"42.5","v":12.7},{"d":"2025-06-08","s":"42.5","v":12.3},{"d":"2025-06-11","s":"42.5","v":12},{"d":"2025-06-14","s":"42.5","v":11.8},{"d":"2025-06-18","s":"42.5","v":11.2},{"d":"2025-06-21","s":"42.5","v":11},{"d":"2025-06-25","s":"42.5","v":10.7},{"d":"2025-06-28","s":"42.5","v":10.4},{"d":"2025-06-29","s":"42.5","v":15},{"d":"2025-07-01","s":"42.5","v":18},{"d":"2025-07-04","s":"42.5","v":17},{"d":"2025-07-07","s":"42.5","v":15.8},{"d":"2025-07-10","s":"42.5","v":14.8},{"d":"2025-07-13","s":"42.5","v":14},{"d":"2025-07-17","s":"42.5","v":13.2},{"d":"2025-07-21","s":"42.5","v":12.4},{"d":"2025-07-25","s":"42.5","v":11.8},{"d":"2025-07-29","s":"42.5","v":11.3},{"d":"2025-08-02","s":"42.5","v":10.9},{"d":"2025-08-06","s":"42.5","v":10.5},{"d":"2025-08-10","s":"42.5","v":10.1},{"d":"2025-08-14","s":"42.5","v":9.7},{"d":"2025-08-18","s":"42.5","v":9.3},{"d":"2025-08-22","s":"42.5","v":9},{"d":"2025-08-26","s":"42.5","v":8.8},{"d":"2025-08-30","s":"42.5","v":8.6},{"d":"2025-09-03","s":"42.5","v":8.4},{"d":"2025-09-07","s":"42.5","v":8.3},{"d":"2025-09-11","s":"42.5","v":8.1},{"d":"2025-09-15","s":"42.5","v":7.9},{"d":"2025-09-19","s":"42.5","v":7.8},{"d":"2025-09-22","s":"42.5","v":8.4},{"d":"2025-09-25","s":"42.5","v":8},{"d":"2025-09-28","s":"42.5","v":7.6},{"d":"2025-10-02","s":"42.5","v":7.5},{"d":"2025-10-06","s":"42.5","v":7.3},{"d":"2025-10-10","s":"42.5","v":7.1},{"d":"2025-10-13","s":"42.5","v":7.1},{"d":"2025-10-16","s":"42.5","v":7.5},{"d":"2025-10-19","s":"42.5","v":7.9},{"d":"2025-10-22","s":"42.5","v":8.2},{"d":"2025-10-25","s":"42.5","v":7.8},{"d":"2025-10-28","s":"42.5","v":7.6},{"d":"2025-10-30","s":"42.5","v":9.4},{"d":"2025-11-01","s":"42.5","v":13},{"d":"2025-11-04","s":"42.5","v":13.7},{"d":"2025-11-07","s":"42.5","v":13.2},{"d":"2025-11-10","s":"42.5","v":13.5},{"d":"2025-11-13","s":"42.5","v":12.8},{"d":"2025-11-16","s":"42.5","v":13.6},{"d":"2025-11-19","s":"42.5","v":13},{"d":"2025-11-21","s":"42.5","v":13.5},{"d":"2025-11-22","s":"42.5","v":15},{"d":"2025-11-23","s":"42.5","v":17},{"d":"2025-11-25","s":"42.5","v":20},{"d":"2025-11-26","s":"42.5","v":22},{"d":"2025-11-28","s":"42.5","v":17},{"d":"2025-11-30","s":"42.5","v":16}
],
"yr": [{"d":"2024-04-01","d2":"2024-08-03"},{"d":"2024-09-04","d2":"2025-01-01"},{"d":"2025-01-01","d2":"2025-06-03"},{"d":"2025-07-05","d2":"2025-12-01"}],
"yt": [{"d":"2024-04-01"},{"d":"2025-01-01"},{"d":"2025-12-01"}],
"yl": [{"d":"2024-08-19","t":"2024"},{"d":"2025-06-20","t":"2025"}],
"lab": [{"t":"Precipitation"}],
"dummy": [{"t":""}]
},
"layer": [
 {
  "layer": [
   {
    "data": {"name": "p", "format": {"parse": {"d": "date:'%Y-%m-%d'"}}},
    "mark": {"type": "bar", "width": 2.5, "color": "#2b2b2b"},
    "encoding": {
     "x": {"field": "d", "type": "temporal",
       "scale": {"domain": [{"year": 2024, "month": 4, "date": 1}, {"year": 2025, "month": 12, "date": 1}], "nice": false},
       "axis": {"title": null, "tickCount": {"interval": "month", "step": 1}, "format": "%b", "labelFontSize": 18, "labelPadding": 7, "tickSize": 6, "labelFlush": false, "labelOverlap": false, "labelOffset": 2}},
     "y": {"field": "p", "type": "quantitative",
       "scale": {"domain": [0, 810], "reverse": true, "nice": false, "zero": true},
       "axis": {"orient": "right", "values": [0, 100, 200, 300, 400, 500, 600, 700, 800], "labelExpr": "datum.value <= 200 ? datum.label : ''", "labelFontSize": 20, "tickSize": 6, "labelPadding": 15, "title": "P (mm d⁻¹)", "titleFontSize": 26, "titleAngle": 270, "titleX": 93, "titleY": 42, "titleAlign": "center", "titleBaseline": "middle"}}
    }
   },
   {
    "data": {"name": "dummy"},
    "mark": {"type": "text"},
    "encoding": {
     "y": {"datum": 0, "type": "quantitative",
       "axis": {"orient": "left", "offset": -959, "values": [20,40,60,80,100,120,140,160,180,200,220,240,260,280,300,320,340,360,380,400,420,440,460,480,500,520,540,560,580,600,620,640,660,680,700,720,740,760,780,800], "labels": false, "domain": false, "ticks": true, "tickSize": 6, "title": null, "grid": false}},
     "text": {"field": "t"}
    }
   }
  ],
  "resolve": {"axis": {"y": "independent"}}
 },
 {
  "layer": [
   {
    "data": {"name": "swc", "format": {"parse": {"d": "date:'%Y-%m-%d'"}}},
    "mark": {"type": "point", "filled": true, "stroke": "#333", "strokeWidth": 1, "opacity": 1},
    "encoding": {
     "x": {"field": "d", "type": "temporal", "title": null},
     "y": {"field": "v", "type": "quantitative",
       "scale": {"domain": [0, 60], "nice": false},
       "axis": {"orient": "left", "values": [0, 10, 20, 30, 40, 50, 60], "labelExpr": "datum.value <= 40 ? datum.label : ''", "labelFontSize": 24, "tickSize": 6, "labelPadding": 14, "title": "SWC (%)", "titleFontSize": 26, "titleAngle": 270, "titleX": -63, "titleY": 264, "titleAlign": "center", "titleBaseline": "middle"}},
     "fill": {"field": "s", "type": "nominal", "scale": {"domain": ["12.5", "22.5", "32.5", "42.5"], "range": ["transparent", "#333333", "transparent", "#333333"]},
       "legend": {"title": "SWC:", "labelExpr": "'Z(' + datum.label + ' cm)'", "symbolStrokeColor": "#333", "symbolStrokeWidth": 1, "encode": {"symbols": {"stroke": {"value": "#333333"}, "strokeWidth": {"value": 1}}}}},
     "shape": {"field": "s", "type": "nominal", "scale": {"domain": ["12.5", "22.5", "32.5", "42.5"], "range": ["circle", "circle", "square", "square"]},
       "legend": {"title": "SWC:", "labelExpr": "'Z(' + datum.label + ' cm)'", "symbolStrokeColor": "#333", "symbolStrokeWidth": 1, "encode": {"symbols": {"stroke": {"value": "#333333"}, "strokeWidth": {"value": 1}}}}},
     "size": {"field": "s", "type": "nominal", "scale": {"type": "ordinal", "domain": ["12.5", "22.5", "32.5", "42.5"], "range": [64, 14, 72, 28]},
       "legend": {"title": "SWC:", "labelExpr": "'Z(' + datum.label + ' cm)'", "symbolStrokeColor": "#333", "symbolStrokeWidth": 1, "encode": {"symbols": {"stroke": {"value": "#333333"}, "strokeWidth": {"value": 1}}}}}
    }
   },
   {
    "data": {"name": "lab"},
    "mark": {"type": "text", "fontSize": 30, "color": "#333", "baseline": "middle", "align": "center"},
    "encoding": {
     "x": {"datum": {"year": 2025, "month": 5, "date": 4}, "type": "temporal"},
     "y": {"datum": 51, "type": "quantitative", "axis": null},
     "text": {"field": "t"}
    }
   },
   {
    "data": {"name": "yr", "format": {"parse": {"d": "date:'%Y-%m-%d'", "d2": "date:'%Y-%m-%d'"}}},
    "mark": {"type": "rule", "color": "#aaa", "strokeWidth": 1},
    "encoding": {
     "x": {"field": "d", "type": "temporal", "title": null},
     "x2": {"field": "d2"},
     "y": {"datum": -9, "type": "quantitative", "axis": null}
    }
   },
   {
    "data": {"name": "yt", "format": {"parse": {"d": "date:'%Y-%m-%d'"}}},
    "mark": {"type": "rule", "color": "#aaa", "strokeWidth": 1},
    "encoding": {
     "x": {"field": "d", "type": "temporal", "title": null},
     "y": {"datum": -7.2, "type": "quantitative", "axis": null},
     "y2": {"datum": -10.8}
    }
   },
   {
    "data": {"name": "yl", "format": {"parse": {"d": "date:'%Y-%m-%d'"}}},
    "mark": {"type": "text", "fontSize": 18, "color": "#333", "baseline": "middle", "align": "center"},
    "encoding": {
     "x": {"field": "d", "type": "temporal", "title": null},
     "y": {"datum": -9, "type": "quantitative", "axis": null},
     "text": {"field": "t"}
    }
   },
   {
    "data": {"name": "dummy"},
    "mark": {"type": "text"},
    "encoding": {
     "y": {"datum": 0, "type": "quantitative",
       "axis": {"orient": "right", "offset": -959, "values": [2,4,6,8,10,12,14,16,18,20,22,24,26,28,30,32,34,36,38,40,42,44,46,48,50,52,54,56,58], "labels": false, "domain": false, "ticks": true, "tickSize": 7, "title": null, "grid": false}},
     "text": {"field": "t"}
    }
   }
  ],
  "resolve": {"axis": {"y": "independent"}}
 }
],
"resolve": {"scale": {"y": "independent"}}
}
